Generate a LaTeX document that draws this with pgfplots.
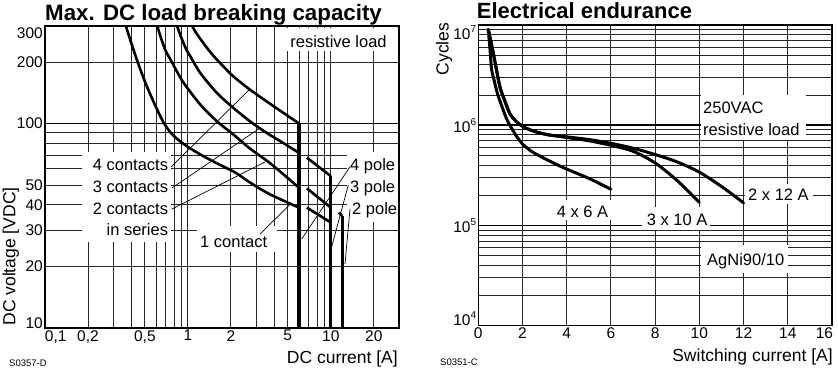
\documentclass[border=0pt]{standalone}
\usepackage{pgfplots}
\pgfplotsset{compat=1.18}
\usepackage{fontspec}
\setmainfont{Liberation Sans}
\newcommand\tk{\fontsize{15.5}{17}\selectfont}
\newcommand\lb{\fontsize{16.5}{18}\selectfont}
\newcommand\al{\fontsize{17.5}{19}\selectfont}
\newcommand\ttl{\fontsize{22}{24}\selectfont\bfseries}
\newcommand\sm{\fontsize{9.5}{10}\selectfont}
\newcommand\pw[1]{10\raisebox{0.45em}{\fontsize{10}{10}\selectfont #1}}
\begin{document}
\begin{tikzpicture}
\useasboundingbox (0pt,0pt) rectangle (838pt,368pt);
\pgfplotsset{
  myax/.style={
    scale only axis, anchor=south west,
    grid=both,
    major grid style={draw=black!85, line width=0.9pt},
    minor grid style={draw=black!85, line width=0.9pt},
    major tick length=0pt, minor tick length=0pt,
    axis line style={line width=1.1pt},
    tick label style={font=\tk, inner sep=2pt},
    /pgf/number format/assume math mode=true,
  },
  curve/.style={black, line width=2.6pt, line join=round, line cap=round, mark=none},
}
% ---------------- left panel ----------------
\begin{axis}[myax, at={(45pt,40pt)}, width=354pt, height=302pt,
  xmode=log, ymode=log, xmin=0.1, xmax=30, ymin=10, ymax=300,
  xtick={0.1,0.2,0.5,1,2,5,10,20},
  xticklabels={{\makebox[0pt][l]{0,1}},{0,2},{0,5},1,2,5,10,20},
  minor xtick={0.3,0.4,0.6,0.7,0.8,0.9,3,4,6,7,8,9},
  ytick={10,20,30,40,50,100,200,300},
  yticklabels={{\smash{10}},20,30,40,50,100,200,{\smash{\raisebox{-13pt}{300}}}},
  minor ytick={60,70,80,90},
  extra y ticks={100}, extra y tick labels={},
  extra y tick style={grid=major, major grid style={draw=black, line width=1.8pt}},
]
% 1 contact
\addplot[curve, smooth] coordinates {(0.368,300) (0.399,251) (0.432,212.3) (0.468,181.4) (0.507,156.7) (0.558,133.9) (0.614,115.7) (0.676,101.1) (0.756,90.4) (0.859,83.1) (0.992,77.2) (1.221,70.6) (1.603,63.8) (2.138,57.7) (2.716,51.5) (3.741,45.1) (6.0,38.8)};
% 2 contacts
\addplot[curve, smooth] coordinates {(0.611,300) (0.634,274.8) (0.662,251.2) (0.698,227.1) (0.756,205.2) (0.832,181.4) (0.935,157.9) (1.221,123.8) (1.595,102.6) (2.08,88.4) (2.716,75.5) (3.548,66.0) (4.628,56.7) (6.0,48.5)};
% 3 contacts
\addplot[curve, smooth] coordinates {(0.841,300) (0.873,277.9) (0.911,256.9) (0.976,229.6) (1.041,213.0) (1.221,176.7) (1.595,141.2) (2.08,119.3) (2.716,102.6) (3.548,90.1) (4.628,80.5) (6.0,71.8)};
% 4 contacts
\addplot[curve, smooth] coordinates {(1.07,300) (1.146,276.4) (1.241,255.5) (1.366,233.5) (1.528,212.3) (1.764,190.8) (2.08,170.1) (2.716,146.5) (3.548,128.5) (4.628,113.1) (6.0,100)};
% pole limits
\addplot[black, line width=3.6pt] coordinates {(6,100) (6,10)};
\addplot[curve, line cap=butt] coordinates {(6.8,68.1) (10,55.3)};
\addplot[black, line width=2.8pt] coordinates {(10,55.3) (10,10)};
\addplot[curve, line cap=butt] coordinates {(6.8,48.2) (10,38.8)};
\addplot[curve, line cap=butt] coordinates {(6.8,38.8) (10,32.8)};
\addplot[curve, line cap=butt] coordinates {(11.4,36.7) (12,35.3)};
\addplot[black, line width=2.8pt] coordinates {(12,35.3) (12,10)};
\end{axis}
% ---------------- right panel ----------------
\begin{axis}[myax, at={(478.3pt,42.3pt)}, width=353.7pt, height=300.7pt,
  ymode=log, xmin=0, xmax=16, ymin=1e4, ymax=1e7,
  xtick={0,2,4,6,8,10,12,14,16},
  xticklabels={0,2,4,6,8,10,12,14,{\makebox[0pt][r]{16\hspace{-1pt}}}},
  ytick={1e4,1e5,1e6,1e7},
  yticklabels={{\smash{\pw{4}}},{\pw{5}},{\pw{6}},{\smash{\raisebox{-14pt}{\pw{7}}}}},
  minor ytick={2e4,3e4,4e4,5e4,6e4,7e4,8e4,9e4,2e5,3e5,4e5,5e5,6e5,7e5,8e5,9e5,2e6,3e6,4e6,5e6,6e6,7e6,8e6,9e6},
  major grid style={draw=black!85, line width=1.1pt},
  extra y ticks={1e5,1e6}, extra y tick labels={},
  extra y tick style={grid=major, major grid style={draw=black, line width=1.8pt}},
]
% 4 x 6 A
\addplot[curve, line width=3pt, smooth] coordinates {(0.45,9e6) (0.5,6.8e6) (0.55,5.0e6) (0.6,3.6e6) (0.7,2.9e6) (0.8,2.35e6) (0.9,1.95e6) (1.0,1.7e6) (1.13,1.41e6) (1.3,1.13e6) (1.5,9.4e5) (1.74,7.7e5) (2.0,6.5e5) (2.4,5.5e5) (2.8,4.9e5) (3.4,4.2e5) (4,3.65e5) (5,2.95e5) (6,2.3e5)};
% 3 x 10 A
\addplot[curve, line width=3pt, smooth] coordinates {(0.45,9e6) (0.55,7.2e6) (0.68,5.2e6) (0.8,3.8e6) (0.98,2.4e6) (1.2,1.75e6) (1.43,1.3e6) (1.7,1.1e6) (2.05,9.6e5) (2.6,8.6e5) (3.2,8.0e5) (3.9,7.6e5) (5,7.0e5) (6,6.3e5) (7,5.5e5) (8,4.2e5) (9,2.8e5) (10,1.7e5)};
% 2 x 12 A
\addplot[curve, line width=3pt, smooth] coordinates {(0.45,9e6) (0.55,7.2e6) (0.68,5.2e6) (0.8,3.8e6) (0.98,2.4e6) (1.2,1.75e6) (1.43,1.3e6) (1.7,1.1e6) (2.05,9.6e5) (2.6,8.6e5) (3.2,8.0e5) (3.9,7.7e5) (5,7.2e5) (6,6.6e5) (7,5.9e5) (8,5.1e5) (9,4.3e5) (10,3.4e5) (11,2.45e5) (12,1.68e5)};
\end{axis}
% ---------------- annotations, left ----------------
\node[anchor=base west, inner sep=0pt, font=\fontsize{22.3}{24}\selectfont\bfseries] at (45pt,347.3pt) {Max. DC load breaking capacity};
\node[rotate=90, inner sep=0pt, font=\al] at (10.8pt,111.5pt) {DC voltage [VDC]};
\node[anchor=base east, inner sep=0pt, font=\al] at (398pt,5pt) {DC current [A]};
\node[anchor=base west, inner sep=0pt, font=\sm] at (9pt,2pt) {S0357-D};
\fill[white] (82pt,126pt) rectangle (171pt,216pt);
\fill[white] (197pt,116pt) rectangle (277pt,142pt);
\fill[white] (285pt,317pt) rectangle (392pt,340pt);
\fill[white] (347pt,146pt) rectangle (397.5pt,216pt);
\node[anchor=base, inner sep=0pt, font=\lb] at (338.5pt,320.5pt) {resistive load};
\node[anchor=base east, inner sep=0pt, font=\lb] at (168.3pt,197.3pt) {4 contacts};
\node[anchor=base east, inner sep=0pt, font=\lb] at (168.3pt,175.7pt) {3 contacts};
\node[anchor=base east, inner sep=0pt, font=\lb] at (168.3pt,154pt) {2 contacts};
\node[anchor=base east, inner sep=0pt, font=\lb] at (168.3pt,132.3pt) {in series};
\node[anchor=base west, inner sep=0pt, font=\lb] at (200pt,120.7pt) {1 contact};
\node[anchor=base west, inner sep=0pt, font=\lb] at (350pt,197.3pt) {4 pole};
\node[anchor=base west, inner sep=0pt, font=\lb] at (350pt,175.7pt) {3 pole};
\node[anchor=base west, inner sep=0pt, font=\lb] at (352pt,154pt) {2 pole};
\begin{scope}[line width=0.7pt]
\draw (171pt,201pt) -- (250pt,279pt);
\draw (172pt,180pt) -- (260pt,240pt);
\draw (172pt,159pt) -- (265pt,206pt);
\draw (260pt,134pt) -- (290pt,163.5pt);
\draw (350pt,201.3pt) -- (301.7pt,129pt);
\draw (348.3pt,183pt) -- (331.7pt,121.3pt);
\draw (350pt,159pt) -- (345pt,104pt);
\end{scope}
% ---------------- annotations, right ----------------
\node[anchor=base west, inner sep=0pt, font=\ttl] at (476.7pt,349.7pt) {Electrical endurance};
\node[rotate=90, inner sep=0pt, font=\al] at (444pt,319pt) {Cycles};
\node[anchor=base east, inner sep=0pt, font=\al] at (833pt,6.5pt) {Switching current [A]};
\node[anchor=base west, inner sep=0pt, font=\sm] at (440pt,3pt) {S0351-C};
\fill[white] (701pt,228pt) rectangle (806pt,273pt);
\fill[white] (553pt,148pt) rectangle (611pt,168pt);
\fill[white] (642pt,138pt) rectangle (710pt,161pt);
\fill[white] (745pt,164pt) rectangle (813pt,184pt);
\fill[white] (701pt,95pt) rectangle (788pt,123pt);
\node[anchor=base west, inner sep=0pt, font=\lb] at (703pt,255pt) {250VAC};
\node[anchor=base west, inner sep=0pt, font=\lb] at (703pt,233pt) {resistive load};
\node[anchor=base west, inner sep=0pt, font=\lb] at (556.7pt,150.7pt) {4 x 6 A};
\node[anchor=base west, inner sep=0pt, font=\lb] at (646.7pt,142.3pt) {3 x 10 A};
\node[anchor=base west, inner sep=0pt, font=\lb] at (748pt,167.3pt) {2 x 12 A};
\node[anchor=base west, inner sep=0pt, font=\lb] at (707pt,102.3pt) {AgNi90/10};
\end{tikzpicture}
\end{document}
